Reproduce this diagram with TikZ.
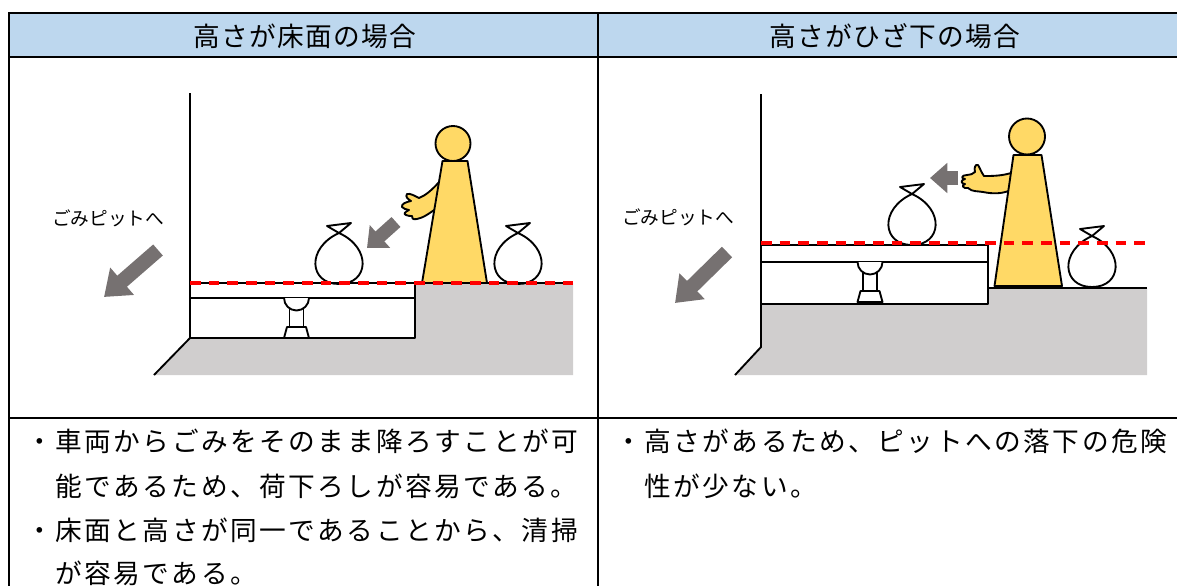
\documentclass[tikz,border=0pt]{standalone}
\usepackage{fontspec}
\newfontfamily\jpfont{Noto Sans CJK JP}
\newfontfamily\jphead[LetterSpace=5]{Noto Sans CJK JP}
\newfontfamily\jpbody[LetterSpace=9.4]{Noto Sans CJK JP}
\usetikzlibrary{arrows.meta}

\definecolor{headblue}{RGB}{189,215,238}
\definecolor{floorgray}{RGB}{208,206,206}
\definecolor{arrowgray}{RGB}{118,113,113}
\definecolor{skin}{RGB}{255,217,102}

\tikzset{
  grid/.style={line width=2pt},
  thinline/.style={line width=1.4pt, line join=round},
  floorline/.style={red, line width=2.3pt, dash pattern=on 8pt off 6pt},
  bigarrow/.style={arrowgray, line width=11pt, -{Triangle[length=18pt,width=26pt]}},
  smallarrow/.style={arrowgray, line width=10pt, -{Triangle[length=13pt,width=22pt]}},
  headtext/.style={font=\jphead\fontsize{20}{24}\selectfont, inner sep=0pt},
  bodytext/.style={font=\jpbody\fontsize{20}{24}\selectfont, inner sep=0pt, anchor=base west},
  pittext/.style={font=\jpfont\fontsize{14}{16}\selectfont, inner sep=0pt},
  % pics keep y pointing up: garbage bag, placed at the bottom of the bag
  bag/.pic={
    \draw[thinline] (-12,58) -- (0,51) .. controls (33,36) and (30,0) .. (0,0)
      .. controls (-30,0) and (-33,36) .. (0,51) -- (12,61) -- cycle;
  },
  % jack under the gate, placed at the underside of the slab
  jack/.pic={
    \draw[thinline,fill=white] (-7,-8) rectangle (7,-29);
    \draw[thinline,fill=white] (-12.5,0) arc[start angle=180,end angle=360,radius=12.5];
    \draw[thinline,fill=white] (-9.5,-29) -- (9.5,-29) -- (12.5,-40) -- (-12.5,-40) -- cycle;
  },
}

\begin{document}
\begin{tikzpicture}[x=0.75pt,y=0.75pt,yscale=-1,xscale=1]
\useasboundingbox (0,0) rectangle (1177,585);
\clip (0,0) rectangle (1177,585);

%Table
\fill[headblue] (9,13) rectangle (1192,57);
\draw[grid] (9,600) -- (9,13) -- (1192,13);
\draw[grid] (9,57) -- (1192,57);
\draw[grid] (9,418) -- (1192,418);
\draw[grid] (598,13) -- (598,600);

% Text Node
\node[headtext] (headL) at (305,36) {高さが床面の場合};
% Text Node
\node[headtext] (headR) at (895,36) {高さがひざ下の場合};

%--- left: floor level ---
%Shape: ground
\fill[floorgray] (154,375) -- (190,338) -- (415,338) -- (415,283) -- (573,283) -- (573,375) -- cycle;
%Wall
\draw[thinline] (190,93) -- (190,338) -- (154,375);
%Gate
\draw[thinline,fill=white] (190,283) rectangle (415,338);
\draw[thinline] (190,298) -- (415,298);
\draw[thinline] (415,283) -- (573,283);
\pic at (296.5,298) {jack};
%Bags
\pic at (339,284) {bag};
\pic at (518,284) {bag};
%Person
\draw[thinline,fill=skin] (441,180) .. controls (431,191) and (426,195) .. (419,198)
  .. controls (415,196) and (410,193) .. (407,194) .. controls (405,197) and (408,199) .. (411,201)
  .. controls (406,202) and (401,204) .. (402,207) .. controls (403,209) and (406,209) .. (409,210)
  .. controls (405,212) and (403,214) .. (406,215) .. controls (408,216) and (410,216) .. (412,216)
  .. controls (411,218) and (413,220) .. (417,219) .. controls (423,218) and (430,213) .. (437,208) -- cycle;
\draw[thinline,fill=skin] (442.5,161) -- (467.5,161) -- (487,283) -- (422,283) -- cycle;
\draw[thinline,fill=skin] (453,143.5) circle[radius=17.5];
%Arrows
\draw[smallarrow] (396,222) -- (367,248);
\draw[bigarrow] (158,250) -- (104,297);
% Text Node
\node[pittext] (pitL) at (108,218) {ごみピットへ};
%Floor level
\draw[floorline] (190,283) -- (573,283);

%--- right: knee level ---
%Shape: ground
\fill[floorgray] (735,375) -- (761,347) -- (761,304) -- (988,304) -- (988,288) -- (1147,288) -- (1147,375) -- cycle;
%Wall
\draw[thinline] (761,94) -- (761,347) -- (735,375);
%Gate
\draw[thinline,fill=white] (761,245) rectangle (988,304);
\draw[thinline] (761,262) -- (988,262);
\draw[thinline] (988,288) -- (1147,288);
\pic at (870,262) {jack};
%Bags
\pic at (912,245) {bag};
\pic at (1092,287) {bag};
%Person
\draw[thinline,fill=skin] (1014,172) .. controls (1003,176) and (993,176) .. (984,176)
  .. controls (981,172) and (980,168) .. (978,165) .. controls (975,164) and (974,168) .. (975,172)
  .. controls (973,174) and (970,175) .. (967,175) .. controls (961,175) and (961,179) .. (965,179)
  .. controls (960,180) and (961,184) .. (965,184) .. controls (961,185) and (963,189) .. (968,188)
  .. controls (972,192) and (978,191) .. (983,192) .. controls (993,194) and (1002,194) .. (1011,190) -- cycle;
\draw[thinline,fill=skin] (1013.5,155) -- (1041.5,155) -- (1062,286) -- (994.5,286) -- cycle;
\draw[thinline,fill=skin] (1027,136.5) circle[radius=18];
%Arrows
\draw[smallarrow] (958,178) -- (930,178);
\draw[bigarrow] (727,252) -- (675,303);
% Text Node
\node[pittext] (pitR) at (678,217) {ごみピットへ};
%Floor level
\draw[floorline] (761,243) -- (1147,243);

%Notes
\node[bodytext] (noteL1) at (26,451) {・車両からごみをそのまま降ろすことが可};
\node[bodytext] (noteL2) at (26,496) {　能であるため、荷下ろしが容易である。};
\node[bodytext] (noteL3) at (26,540) {・床面と高さが同一であることから、清掃};
\node[bodytext] (noteL4) at (26,583) {　が容易である。};
\node[bodytext] (noteR1) at (615,451) {・高さがあるため、ピットへの落下の危険};
\node[bodytext] (noteR2) at (615,496) {　性が少ない。};

\end{tikzpicture}
\end{document}
